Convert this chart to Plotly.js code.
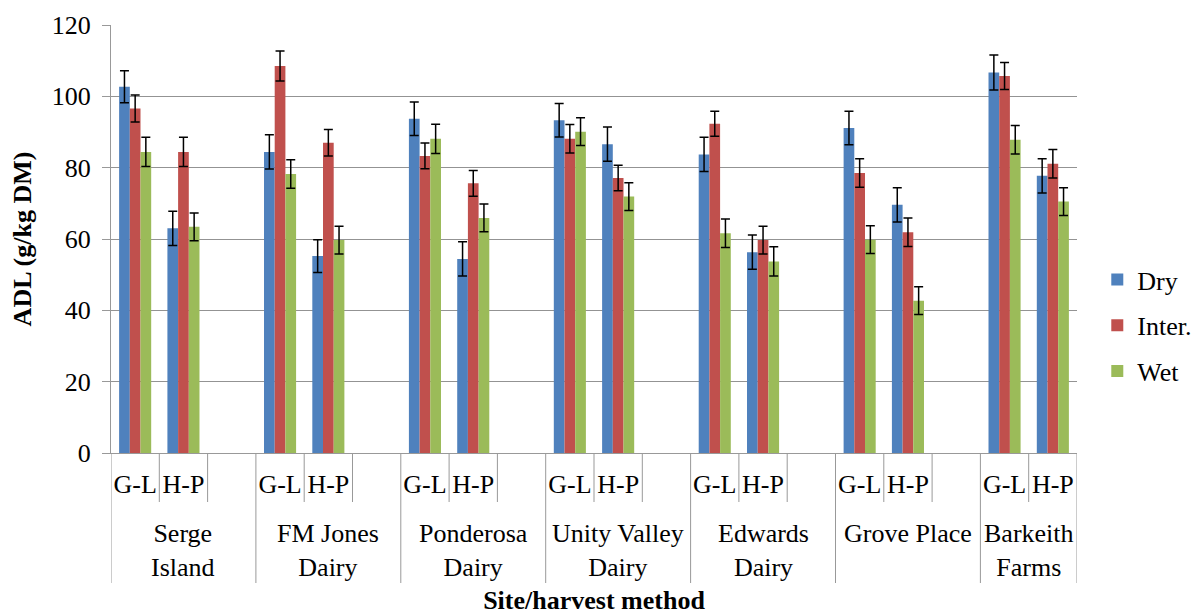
<!DOCTYPE html>
<html><head><meta charset="utf-8">
<script src="https://cdn.plot.ly/plotly-3.0.1.min.js"></script>
<style>html,body{margin:0;padding:0;background:#fff}#chart{width:1195px;height:615px}</style>
</head><body><div id="chart"></div>
<script>
const sites = ["Serge Island","FM Jones Dairy","Ponderosa Dairy","Unity Valley Dairy","Edwards Dairy","Grove Place","Barkeith Farms"];
const siteLabels = ["Serge<br>Island","FM Jones<br>Dairy","Ponderosa<br>Dairy","Unity Valley<br>Dairy","Edwards<br>Dairy","Grove Place","Barkeith<br>Farms"];
const methods = ["G-L","H-P"];
// order: site1 G-L, site1 H-P, site2 G-L, ...
const dry   = [102.7, 63.0, 84.4, 55.2, 93.7, 54.4, 93.3, 86.6, 83.7, 56.3, 91.1, 69.6, 106.7, 77.7];
const inter = [96.6, 84.4, 108.5, 87.0, 83.3, 75.6, 88.1, 77.1, 92.3, 59.7, 78.5, 61.9, 105.7, 81.1];
const wet   = [84.4, 63.4, 78.2, 59.7, 88.1, 65.9, 90.1, 71.9, 61.6, 53.7, 59.8, 42.7, 87.8, 70.5];
const dryErr   = [4.5, 4.8, 4.8, 4.6, 4.7, 4.8, 4.7, 4.8, 4.8, 4.8, 4.7, 4.8, 4.9, 4.8];
const interErr = [3.8, 4.1, 4.2, 3.7, 3.6, 3.6, 4.0, 3.6, 3.5, 3.9, 4.0, 4.0, 3.8, 4.0];
const wetErr   = [4.1, 3.9, 4.0, 3.9, 4.1, 3.9, 3.9, 3.9, 4.0, 4.1, 3.9, 3.9, 4.0, 3.9];

const seriesNames = ["Dry","Inter.","Wet"];
const colors = ["#4F81BD","#C0504D","#9BBB59"];
const FONT = "'Liberation Serif', 'Times New Roman', serif";
const FS = 26;

// category keys: each site has G-L, H-P and a blank slot (not for the last one)
const cats = [], tickText = [];
sites.forEach((s,i)=>{
  methods.forEach(m=>{cats.push(s+"|"+m); tickText.push(m);});
  if(i < sites.length-1){cats.push(s+"|blank"); tickText.push("");}
});
const xKeys = [];
sites.forEach(s=>methods.forEach(m=>xKeys.push(s+"|"+m)));

const vals = [dry, inter, wet], errs = [dryErr, interErr, wetErr];
const traces = vals.map((v,k)=>({
  type:"bar", name:seriesNames[k], x:xKeys, y:v, legendgroup:"g"+k,
  marker:{color:colors[k]},
  error_y:{type:"data", array:errs[k], visible:true, color:"#000", thickness:1.5, width:4.5}
}));

// divider lines under the axis
const shapes = [];
const H = 428;
for(let b=0;b<=cats.length;b++){
  const tall = (b%3===0) || b===cats.length;
  shapes.push({type:"line", xref:"x", yref:"paper", x0:b-0.5, x1:b-0.5, y0:0,
    y1: tall ? -130/H : -49/H, line:{color:"#999", width:1}});
}
const annotations = siteLabels.map((lab,i)=>({
  xref:"x", yref:"paper", x:(i<sites.length-1)? i*3+1 : i*3+0.5, y:-64/H,
  yanchor:"top", xanchor:"center",
  text:lab, showarrow:false, font:{family:FONT,size:FS,color:"#000"}
}));

const layout = {
  width:1195, height:615,
  margin:{l:111, r:118, t:25, b:162, autoexpand:false},
  paper_bgcolor:"#fff", plot_bgcolor:"#fff",
  font:{family:FONT, size:FS, color:"#000"},
  barmode:"group", bargap:0.336, bargroupgap:0,
  xaxis:{type:"category", categoryorder:"array", categoryarray:cats,
    range:[-0.5, cats.length-0.5],
    tickvals:cats, ticktext:tickText, ticks:"", ticklabelstandoff:8,
    showline:true, linecolor:"#999", linewidth:1, showgrid:false,
    tickfont:{family:FONT,size:FS,color:"#000"},
    title:{text:"<b>Site/harvest method</b>", standoff:105, font:{family:FONT,size:FS,color:"#000"}},
    automargin:false},
  yaxis:{range:[0,120], dtick:20, ticks:"outside", ticklen:8, tickcolor:"#999",
    showline:true, linecolor:"#999", linewidth:1,
    gridcolor:"#939393", gridwidth:1, zeroline:false,
    ticklabelstandoff:6,
    tickfont:{family:FONT,size:FS,color:"#000"},
    title:{text:"<b>ADL (g/kg DM)</b>", standoff:12, font:{family:FONT,size:FS,color:"#000"}},
    automargin:false},
  legend:{x:1.021, y:0.46, xanchor:"left", yanchor:"top", tracegroupgap:9,
    font:{family:FONT,size:FS,color:"#000"}, bgcolor:"rgba(0,0,0,0)"},
  shapes:shapes, annotations:annotations
};
Plotly.newPlot("chart", traces, layout, {displayModeBar:false, staticPlot:true});
</script></body></html>
